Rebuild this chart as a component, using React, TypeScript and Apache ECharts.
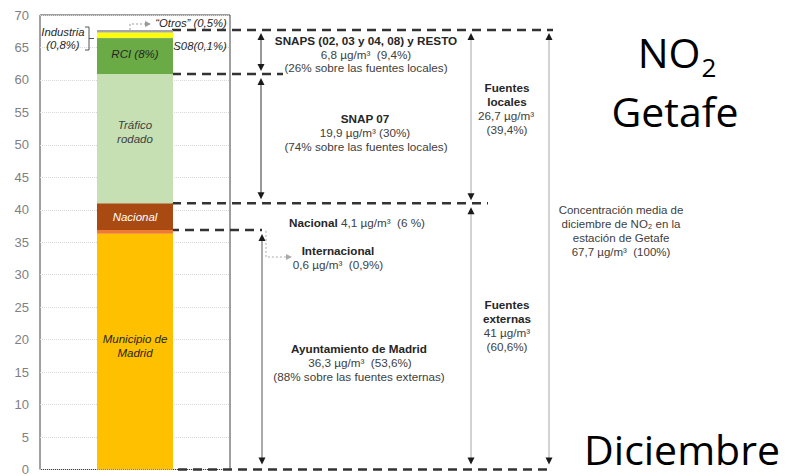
import React, { useEffect, useRef } from "react";
import * as echarts from "echarts";

// ---------- data ----------
const categories = ["Getafe"];
const segmentNames = [
  "Municipio de Madrid",
  "Internacional",
  "Nacional",
  "Tráfico rodado",
  "RCI",
  "S08",
  "Industria",
  "Otros",
];
const segmentValues = [36.3, 0.6, 4.1, 19.9, 5.5, 0.1, 0.8, 0.4];
const segmentLabels = ["Municipio de\nMadrid", "", "Nacional", "Tráfico\nrodado", "RCI (8%)", "", "", ""];
const yMin = 0;
const yMax = 70;
const yInterval = 5;

// ---------- styles ----------
const segmentColors = ["#FFC000", "#EE7B30", "#A84A12", "#C6E0B4", "#6AAB45", "#4F7F33", "#FFFF00", "#A6A6A6"];
const segmentLabelColors = ["#262626", "#262626", "#ffffff", "#404040", "#262626", "#262626", "#262626", "#262626"];
const segmentLabelOffsets = [[0, -6], [0, 0], [0, 0], [0, -7], [0, -2], [0, 0], [0, 0], [0, 0]];

const SANS = "'Liberation Sans', Arial, sans-serif";
const BIG = "'Open Sans', 'Noto Sans', sans-serif";
const FS = 11.7;

export default function App() {
  const ref = useRef<HTMLDivElement>(null);

  useEffect(() => {
    document.body.style.margin = "0";
    if (!ref.current) return;
    const chart = echarts.init(ref.current, undefined, { renderer: "svg" });

    const series = segmentNames.map((name, i) => ({
      name,
      type: "bar",
      stack: "total",
      barWidth: 76,
      data: [segmentValues[i]],
      itemStyle: { color: segmentColors[i] },
      label: {
        show: segmentLabels[i] !== "",
        position: "inside",
        formatter: segmentLabels[i],
        fontStyle: "italic",
        fontFamily: SANS,
        fontSize: 11.5,
        lineHeight: 14,
        color: segmentLabelColors[i],
        offset: segmentLabelOffsets[i],
      },
      silent: true,
    }));

    chart.setOption({
      animation: false,
      grid: {
        left: 40,
        right: 556,
        top: 15,
        bottom: 4,
        show: true,
        borderColor: "#404040",
        borderWidth: 1,
        backgroundColor: "transparent",
      },
      xAxis: {
        type: "category",
        data: categories,
        axisLabel: { show: false },
        axisTick: { show: false },
        axisLine: { show: false },
      },
      yAxis: {
        type: "value",
        min: yMin,
        max: yMax,
        interval: yInterval,
        axisLine: { show: false },
        axisTick: { show: false },
        axisLabel: { color: "#7f7f7f", fontSize: 13, fontFamily: SANS, margin: 11 },
        splitLine: { lineStyle: { color: "#d9d9d9", type: "dotted", width: 1 } },
      },
      series,
    });

    // cumulative levels from data
    const levels: number[] = [0];
    segmentValues.forEach((v, i) => levels.push(+(levels[i] + v).toFixed(2)));
    const py = (v: number) => chart.convertToPixel({ yAxisIndex: 0 }, v) as number;
    const yTop = py(levels[levels.length - 1]); // 67.7
    const yLocal = py(levels[4]); // 60.9
    const yExt = py(levels[3]); // 41.0
    const yMun = py(levels[2]); // 36.9
    const y0 = py(0);

    const g: any[] = [];
    const dash = (x1: number, x2: number, y: number) =>
      g.push({
        type: "line",
        silent: true,
        shape: { x1, y1: y, x2, y2: y },
        style: { stroke: "#333", lineWidth: 2.5, lineDash: [9, 6] },
      });
    const tri = (x: number, y: number, dir: "up" | "down" | "right", color: string) => {
      let pts: number[][];
      if (dir === "up") pts = [[x, y], [x - 3.5, y + 7], [x + 3.5, y + 7]];
      else if (dir === "down") pts = [[x, y], [x - 3.5, y - 7], [x + 3.5, y - 7]];
      else pts = [[x, y], [x - 6, y - 3], [x - 6, y + 3]];
      g.push({ type: "polygon", silent: true, shape: { points: pts }, style: { fill: color } });
    };
    const arrowV = (x: number, y1: number, y2: number, lineColor: string) => {
      g.push({
        type: "line",
        silent: true,
        shape: { x1: x, y1: y1 + 5, x2: x, y2: y2 - 5 },
        style: { stroke: lineColor, lineWidth: 1 },
      });
      tri(x, y1, "up", "#1a1a1a");
      tri(x, y2, "down", "#1a1a1a");
    };
    const txt = (x: number, y: number, text: string, o: any = {}) =>
      g.push({
        type: "text",
        silent: true,
        x,
        y,
        style: {
          text,
          fill: o.fill || "#404040",
          fontSize: o.fontSize || FS,
          fontFamily: o.fontFamily || SANS,
          fontWeight: o.fontWeight || "normal",
          fontStyle: o.fontStyle || "normal",
          align: o.align || "center",
          verticalAlign: "middle",
          rich: o.rich,
        },
      });

    // dashed level lines
    dash(172, 553, yTop);
    dash(172, 283, yLocal);
    dash(172, 488, yExt);
    dash(170, 262, yMun);
    dash(178, 553, y0);

    // vertical arrows
    arrowV(261, yTop + 3, yLocal - 3, "#333");
    arrowV(261, yLocal + 4, yExt - 4, "#333");
    arrowV(262, yMun + 4, y0 - 5, "#555");
    arrowV(471, yTop + 3, yExt - 3, "#a6a6a6");
    arrowV(471, yExt + 4, y0 - 5, "#a6a6a6");
    arrowV(549, yTop + 3, y0 - 5, "#a6a6a6");

    // dotted connectors
    g.push({
      type: "polyline",
      silent: true,
      shape: { points: [[130, yTop], [130, 24], [145, 24]] },
      style: { stroke: "#999", lineWidth: 1, lineDash: [2, 2], fill: null },
    });
    tri(151, 24, "right", "#999");
    g.push({
      type: "polyline",
      silent: true,
      shape: { points: [[266, yMun + 1], [266, 257], [286, 257]] },
      style: { stroke: "#aaa", lineWidth: 1, lineDash: [2, 2], fill: null },
    });
    tri(292, 257, "right", "#aaa");

    // Industria bracket
    g.push({
      type: "polyline",
      silent: true,
      shape: { points: [[85, 27], [89, 27], [89, 50], [85, 50]] },
      style: { stroke: "#555", lineWidth: 1, fill: null },
    });
    g.push({ type: "line", silent: true, shape: { x1: 89, y1: 38.5, x2: 94, y2: 38.5 }, style: { stroke: "#555", lineWidth: 1 } });

    // small labels around bar
    const IT = { fontStyle: "italic", fontSize: 11.3, fill: "#262626" };
    txt(63, 32, "Industria", IT);
    txt(63, 45, "(0,8%)", IT);
    txt(191, 23, "“Otros” (0,5%)", IT);
    txt(200, 46, "S08(0,1%)", IT);

    const B = { fontWeight: "bold", fill: "#262626" };
    // SNAPS block
    txt(366, 40, "SNAPS (02, 03 y 04, 08) y RESTO", B);
    txt(366, 54, "6,8 µg/m³  (9,4%)");
    txt(366, 67, "(26% sobre las fuentes locales)");
    // SNAP 07 block
    txt(365, 118, "SNAP 07", B);
    txt(365, 132, "19,9 µg/m³ (30%)");
    txt(366, 146, "(74% sobre las fuentes locales)");
    // Nacional
    txt(357, 222, "{b|Nacional} 4,1 µg/m³  (6 %)", {
      rich: { b: { fontWeight: "bold", fill: "#262626", fontSize: FS, fontFamily: SANS } },
    });
    // Internacional
    txt(338, 250, "Internacional", B);
    txt(338, 264, "0,6 µg/m³  (0,9%)");
    // Ayuntamiento
    txt(359, 348, "Ayuntamiento de Madrid", B);
    txt(360, 362, "36,3 µg/m³  (53,6%)");
    txt(359, 376, "(88% sobre las fuentes externas)");
    // Fuentes locales
    txt(507, 87, "Fuentes", B);
    txt(507, 101, "locales", B);
    txt(506, 115, "26,7 µg/m³");
    txt(507, 129, "(39,4%)");
    // Fuentes externas
    txt(507, 304, "Fuentes", B);
    txt(507, 318, "externas", B);
    txt(507, 332, "41 µg/m³");
    txt(507, 346, "(60,6%)");
    // total
    txt(621, 210, "Concentración media de", { fontSize: 11.5 });
    txt(621, 224, "diciembre de NO₂ en la", { fontSize: 11.5 });
    txt(621, 238, "estación de Getafe", { fontSize: 11.5 });
    txt(621, 252, "67,7 µg/m³  (100%)", { fontSize: 11.5 });

    // big titles
    txt(669, 52, "NO", { fontFamily: BIG, fontSize: 41, fill: "#000", align: "center" });
    txt(709, 67, "2", { fontFamily: BIG, fontSize: 26, fill: "#000", align: "center" });
    txt(675, 111, "Getafe", { fontFamily: BIG, fontSize: 41, fill: "#000" });
    txt(682, 449, "Diciembre", { fontFamily: BIG, fontSize: 41, fill: "#000" });

    chart.setOption({ graphic: g });

    return () => chart.dispose();
  }, []);

  return <div ref={ref} style={{ width: 786, height: 476 }} />;
}
